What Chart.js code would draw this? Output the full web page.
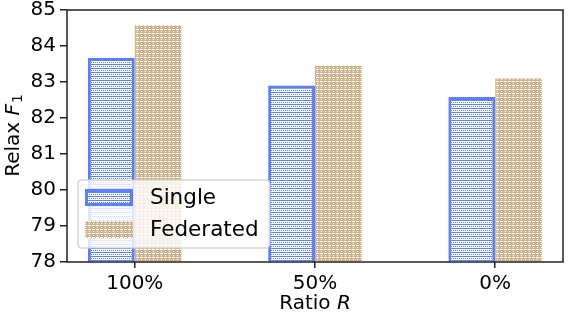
<!DOCTYPE html>
<html><head><meta charset="utf-8">
<script src="https://cdn.jsdelivr.net/npm/chart.js@4/dist/chart.umd.min.js"></script>
<style>html,body{margin:0;padding:0;background:#fff}#c{display:block}</style></head>
<body><div style="width:568px;height:314px"><canvas id="c" width="568" height="314"></canvas></div>
<script>
const categories = ['100%', '50%', '0%'];
const seriesNames = ['Single', 'Federated'];
const singleValues = [83.67, 82.9, 82.58];
const federatedValues = [84.58, 83.45, 83.1];
const yTicks = [78, 79, 80, 81, 82, 83, 84, 85];

const BLUE = '#5b7fff';
const TAN = '#d2b48c';
const FONT = '"DejaVu Sans", sans-serif';

function makePattern(bg, fg, cells, w, h) {
  const c = document.createElement('canvas');
  c.width = w; c.height = h;
  const g = c.getContext('2d');
  g.fillStyle = bg; g.fillRect(0, 0, w, h);
  g.fillStyle = fg;
  cells.forEach(r => g.fillRect(r[0], r[1], r[2], r[3]));
  return g.createPattern(c, 'repeat');
}
const ctx = document.getElementById('c').getContext('2d');
const singleFill = makePattern('#ffffff', BLUE, [[0,0,4,1],[1,2,1,1],[3,2,1,1]], 4, 4);
const fedFill = makePattern(TAN, '#ffffff', [[0,1,3,1],[1,3,1,1]], 4, 4);

const frameAndTitles = {
  id: 'frameAndTitles',
  afterDatasetsDraw(chart) {
    const c = chart.ctx, a = chart.chartArea;
    // legend
    c.save();
    const lx = 78, ly = 180, lw = 192, lh = 68, r = 4;
    c.beginPath();
    c.moveTo(lx + r, ly); c.lineTo(lx + lw - r, ly); c.quadraticCurveTo(lx + lw, ly, lx + lw, ly + r);
    c.lineTo(lx + lw, ly + lh - r); c.quadraticCurveTo(lx + lw, ly + lh, lx + lw - r, ly + lh);
    c.lineTo(lx + r, ly + lh); c.quadraticCurveTo(lx, ly + lh, lx, ly + lh - r);
    c.lineTo(lx, ly + r); c.quadraticCurveTo(lx, ly, lx + r, ly);
    c.closePath();
    c.fillStyle = 'rgba(255,255,255,0.8)'; c.fill();
    c.strokeStyle = 'rgba(204,204,204,0.8)'; c.lineWidth = 1.5; c.stroke();
    const items = [
      {name: seriesNames[0], fill: singleFill, border: BLUE, bw: 3, y: 189},
      {name: seriesNames[1], fill: fedFill, border: TAN, bw: 0, y: 221}
    ];
    items.forEach(it => {
      c.fillStyle = it.fill; c.fillRect(85, it.y, 48, 17);
      if (it.bw) { c.strokeStyle = it.border; c.lineWidth = it.bw; c.strokeRect(85 + it.bw/2, it.y + it.bw/2, 48 - it.bw, 17 - it.bw); }
      c.fillStyle = '#000'; c.font = '21.5px ' + FONT; c.textBaseline = 'middle'; c.textAlign = 'left';
      c.fillText(it.name, 150, it.y + 9);
    });
    c.restore();
    // frame
    c.save();
    c.strokeStyle = '#222'; c.lineWidth = 1.5;
    c.strokeRect(a.left, a.top, a.right - a.left, a.bottom - a.top);
    c.restore();
    // x title
    c.save();
    c.fillStyle = '#000'; c.textBaseline = 'middle'; c.textAlign = 'left';
    c.font = '20px ' + FONT;
    const t1 = 'Ratio ';
    const w1 = c.measureText(t1).width;
    c.font = 'italic 20px ' + FONT;
    const w2 = c.measureText('R').width;
    let x0 = (a.left + a.right) / 2 - (w1 + w2) / 2;
    c.font = '20px ' + FONT; c.fillText(t1, x0, 304);
    c.font = 'italic 20px ' + FONT; c.fillText('R', x0 + w1, 304);
    c.restore();
    // y title
    c.save();
    c.translate(14, (a.top + a.bottom) / 2);
    c.rotate(-Math.PI / 2);
    c.fillStyle = '#000'; c.textBaseline = 'middle'; c.textAlign = 'left';
    c.font = '20px ' + FONT; const y1 = c.measureText('Relax ').width;
    c.font = 'italic 20px ' + FONT; const y2 = c.measureText('F').width;
    c.font = '14px ' + FONT; const y3 = c.measureText('1').width;
    let s = -(y1 + y2 + y3) / 2;
    c.font = '20px ' + FONT; c.fillText('Relax ', s, 0);
    c.font = 'italic 20px ' + FONT; c.fillText('F', s + y1, 0);
    c.font = '14px ' + FONT; c.fillText('1', s + y1 + y2 + 1, 4);
    c.restore();
  }
};

new Chart(ctx, {
  type: 'bar',
  data: {
    datasets: [
      {label: seriesNames[0], data: singleValues.map((v, i) => ({x: i, y: v})),
       backgroundColor: singleFill, borderColor: BLUE, borderWidth: 3, borderSkipped: 'bottom'},
      {label: seriesNames[1], data: federatedValues.map((v, i) => ({x: i, y: v})),
       backgroundColor: fedFill, borderColor: TAN, borderWidth: 0}
    ]
  },
  options: {
    responsive: false, animation: false, devicePixelRatio: 1,
    layout: {padding: {left: 0, right: 5, top: 10, bottom: 0}},
    datasets: {bar: {categoryPercentage: 0.52, barPercentage: 1}},
    plugins: {legend: {display: false}, tooltip: {enabled: false}},
    scales: {
      x: {
        type: 'linear', min: -0.376, max: 2.376, offset: false,
        afterBuildTicks: s => { s.ticks = categories.map((c, i) => ({value: i})); },
        afterFit: s => { s.height = 52; s.paddingLeft = 0; s.paddingRight = 0; },
        ticks: {callback: v => categories[v], font: {family: FONT, size: 20}, color: '#000', padding: 4, maxRotation: 0, autoSkip: false},
        grid: {display: true, offset: false, drawOnChartArea: false, drawTicks: true, tickLength: 6, color: '#222', lineWidth: 1.5},
        border: {display: false}
      },
      y: {
        min: 78, max: 85,
        afterBuildTicks: s => { s.ticks = yTicks.map(v => ({value: v})); },
        afterFit: s => { s.width = 67; s.paddingTop = 0; s.paddingBottom = 0; },
        ticks: {font: {family: FONT, size: 20}, color: '#000', padding: 4},
        grid: {display: true, drawOnChartArea: false, drawTicks: true, tickLength: 7, color: '#222', lineWidth: 1.5},
        border: {display: false}
      }
    }
  },
  plugins: [frameAndTitles]
});
</script>
</body></html>
